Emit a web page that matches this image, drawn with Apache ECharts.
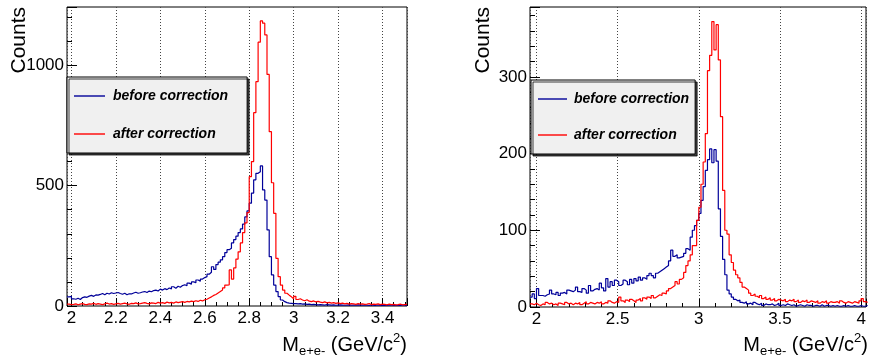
<!DOCTYPE html>
<html><head><meta charset="utf-8">
<script src="https://cdn.jsdelivr.net/npm/echarts@6/dist/echarts.min.js"></script>
<style>html,body{margin:0;padding:0;background:#fff}#c{width:869px;height:356px}</style>
</head><body><div id="c"></div>
<script>
// ---------- data ----------
const seriesNames = ['before correction', 'after correction'];
const seriesColors = ['#000099', '#ff0000'];

// left panel: bins of 0.01 starting at 1.98
const leftBinStart = 1.98;
const leftBinWidth = 0.01;
const leftRange = [1.98, 3.51];
const leftYMax = 1242;
const leftBefore = [38, 40,
 30, 28, 32, 27, 35, 38, 36, 41, 44, 40,
 46, 45, 48, 52, 47, 53, 50, 55, 52, 54,
 56, 52, 49, 53, 47, 51, 50, 54, 57, 53,
 55, 58, 60, 56, 62, 59, 64, 66, 62, 70,
 66, 72, 68, 75, 71, 80, 74, 82, 78, 85,
 88, 84, 95, 90, 100, 97, 108, 103, 112, 118,
 122, 132, 140, 163, 152, 172, 182, 192, 205, 222,
 234, 240, 262, 276, 290, 305, 320, 340, 370, 395,
 427, 469, 524, 551, 558, 582, 482, 440, 316, 205,
 129, 87, 60, 39, 25, 18, 14, 12, 11, 10,
 10, 9, 10, 8, 9, 7, 8, 6, 7, 6,
 5, 6, 5, 4, 6, 5, 4, 5, 3, 4,
 5, 4, 3, 4, 5, 3, 4, 3, 5, 4,
 3, 4, 3, 2, 4, 3, 3, 4, 2, 3,
 3, 2, 4, 3, 2, 3, 3, 2, 4, 3, 2];
const leftAfter = [8, 6,
 7, 9, 5, 8, 10, 7, 6, 9, 8, 11,
 7, 10, 8, 6, 9, 12, 8, 10, 7, 9,
 11, 8, 10, 12, 9, 7, 11, 10, 13, 9,
 10, 12, 14, 11, 9, 13, 12, 10, 15, 12,
 14, 11, 16, 13, 15, 12, 17, 14, 16, 18,
 15, 19, 17, 20, 18, 22, 19, 24, 21, 26,
 28, 33, 38, 44, 48, 54, 60, 66, 75, 87,
 88, 150, 112, 158, 195, 225, 262, 305, 345, 388,
 537, 600, 803, 932, 1096, 1184, 1175, 1126, 962, 724,
 512, 385, 198, 122, 87, 66, 53, 45, 38, 30,
 40, 27, 30, 25, 22, 26, 20, 18, 21, 17,
 19, 16, 14, 17, 13, 15, 12, 14, 11, 13,
 10, 12, 9, 11, 8, 10, 9, 7, 10, 8,
 9, 7, 8, 10, 6, 8, 7, 9, 6, 8,
 7, 5, 8, 6, 7, 5, 6, 8, 5, 6, 7];

// right panel: bins of 1/75 starting at 1.96
const rightBinStart = 1.96;
const rightBinWidth = 1 / 75;
const rightRange = [1.96, 4.03];
const rightYMax = 391;
const rightBefore = [13, 17, 11, 24, 15, 15, 14, 16, 17, 22,
 17, 16, 19, 15, 18, 19, 17, 22, 21, 20,
 22, 26, 20, 19, 24, 22, 18, 28, 21, 23,
 24, 22, 31, 25, 21, 37, 26, 33, 28, 35,
 33, 28, 30, 35, 33, 29, 36, 31, 37, 34,
 39, 35, 38, 36, 41, 44, 41, 38, 44, 46,
 48, 50, 52, 54, 60, 74, 66, 68, 64, 65,
 66, 70, 76, 74, 91, 100, 106, 113, 122, 139,
 157, 178, 192, 206, 188, 205, 190, 128, 92, 62,
 42, 22, 17, 13, 10, 8, 9, 6, 5, 7,
 4, 5, 3, 6, 4, 3, 5, 2, 4, 3,
 3, 4, 2, 3, 5, 2, 3, 2, 4, 3,
 2, 3, 1, 2, 3, 2, 1, 3, 2, 2,
 1, 2, 2, 1, 3, 1, 2, 2, 1, 2,
 1, 2, 1, 1, 2, 1, 2, 1, 1, 2,
 1, 1, 2, 1, 1, 2];
const rightAfter = [4, 3, 5, 3, 2, 4, 3, 6, 4, 5,
 3, 4, 2, 5, 4, 3, 6, 4, 5, 3,
 5, 4, 6, 3, 5, 7, 4, 6, 5, 4,
 6, 5, 7, 4, 6, 5, 8, 6, 5, 7,
 6, 13, 8, 6, 9, 7, 10, 8, 6, 9,
 11, 8, 12, 10, 13, 11, 15, 12, 14, 16,
 15, 18, 17, 21, 24, 26, 28, 33, 30, 36,
 38, 45, 54, 60, 68, 80, 80, 113, 130, 160,
 189, 226, 308, 328, 372, 335, 368, 322, 248, 152,
 100, 95, 68, 58, 48, 42, 38, 32, 26, 24,
 22, 18, 15, 17, 14, 12, 15, 11, 13, 10,
 12, 9, 11, 8, 10, 9, 8, 10, 7, 9,
 8, 10, 7, 9, 6, 8, 7, 9, 6, 8,
 7, 6, 8, 5, 7, 6, 8, 5, 7, 6,
 6, 7, 5, 8, 6, 5, 7, 6, 5, 7,
 6, 5, 8, 11, 7, 6];

// axis tick steps (major / minor)
const leftXStep = [0.2, 0.05];
const leftYStep = [500, 100];
const rightXStep = [0.5, 0.1];
const rightYStep = [100, 20];

const yTitle = 'Counts';
const xTitleRich = '{m|M}{s|e+e-}{m| (GeV/c}{p|2}{m|)}';

// ---------- helpers ----------
const FONT = '"Liberation Sans", Arial, Helvetica, sans-serif';

function hist(start, width, vals) {
  const d = vals.map((v, i) => [start + i * width, v]);
  d.push([start + vals.length * width, vals[vals.length - 1]]);
  return d;
}
function isMult(v, step) {
  const r = v / step;
  return Math.abs(r - Math.round(r)) < 1e-6;
}
function fmt(v) { return String(Number(v.toFixed(3))); }

function xMain(grid, range, step) {
  return {
    type: 'value', gridIndex: grid, position: 'bottom', min: range[0], max: range[1],
    minInterval: step, maxInterval: step,
    axisLine: { show: false, onZero: false },
    axisTick: { show: true, inside: true, length: 8, lineStyle: { color: '#000', width: 1 } },
    axisLabel: { color: '#000', fontSize: 17, fontFamily: FONT, margin: 4,
      formatter: v => isMult(v, step) ? fmt(v) : '' },
    splitLine: { show: true, lineStyle: { color: '#444', type: [1, 2], width: 1 } }
  };
}
function xMinor(grid, range, step) {
  return {
    type: 'value', gridIndex: grid, position: 'bottom', min: range[0], max: range[1],
    minInterval: step, maxInterval: step,
    axisLine: { show: false, onZero: false },
    axisTick: { show: true, inside: true, length: 4, lineStyle: { color: '#000', width: 1 } },
    axisLabel: { show: false }, splitLine: { show: false }
  };
}
function yMain(grid, max, step) {
  return {
    type: 'value', gridIndex: grid, position: 'left', min: 0, max: max,
    minInterval: step, maxInterval: step,
    axisLine: { show: false, onZero: false },
    axisTick: { show: true, inside: true, length: 10, lineStyle: { color: '#000', width: 1 } },
    axisLabel: { color: '#000', fontSize: 17, fontFamily: FONT, margin: 3,
      formatter: v => isMult(v, step) ? fmt(v) : '' },
    splitLine: { show: false }
  };
}
function yMinor(grid, max, step) {
  return {
    type: 'value', gridIndex: grid, position: 'left', min: 0, max: max,
    minInterval: step, maxInterval: step,
    axisLine: { show: false, onZero: false },
    axisTick: { show: true, inside: true, length: 5, lineStyle: { color: '#000', width: 1 } },
    axisLabel: { show: false }, splitLine: { show: false }
  };
}
function histSeries(name, color, data, xi, yi) {
  return {
    type: 'line', name: name, step: 'end', data: data, xAxisIndex: xi, yAxisIndex: yi,
    symbol: 'none', showSymbol: false, clip: true,
    lineStyle: { color: color, width: 1.2 }, itemStyle: { color: color }
  };
}
function legendAt(left, top, itemWidth, itemGap, textPad, padding) {
  return {
    left: left, top: top, orient: 'vertical', data: seriesNames, selectedMode: false,
    icon: 'rect',
    backgroundColor: '#f0f0f0', borderColor: '#000', borderWidth: 1, borderRadius: 0,
    shadowColor: 'rgba(0,0,0,0.75)', shadowOffsetX: 2, shadowOffsetY: 2, shadowBlur: 0,
    padding: padding, itemGap: itemGap, itemWidth: itemWidth, itemHeight: 1.4,
    textStyle: { fontSize: 14, fontStyle: 'italic', fontWeight: 'bold', fontFamily: FONT,
      color: '#000', lineHeight: 14, padding: [0, 0, 0, textPad] }
  };
}
function titleText(x, y) {
  return {
    type: 'text', x: x, y: y, silent: true,
    style: {
      text: xTitleRich, align: 'right', verticalAlign: 'middle',
      rich: {
        m: { fontSize: 20, fontFamily: FONT, fill: '#000', lineHeight: 26 },
        s: { fontSize: 13, fontFamily: FONT, fill: '#000', verticalAlign: 'bottom' },
        p: { fontSize: 13, fontFamily: FONT, fill: '#000', verticalAlign: 'top' }
      }
    }
  };
}
function countsText(x, y) {
  return {
    type: 'text', x: x, y: y, rotation: Math.PI / 2, silent: true,
    style: { text: yTitle, fontSize: 21, fontFamily: FONT, fill: '#000',
      align: 'right', verticalAlign: 'middle' }
  };
}

const chart = echarts.init(document.getElementById('c'), null, { renderer: 'canvas' });
chart.setOption({
  animation: false,
  backgroundColor: '#fff',
  grid: [
    { left: 67, top: 7, width: 340, height: 299, show: true, borderColor: '#000', borderWidth: 1, backgroundColor: '#fff' },
    { left: 530, top: 7, width: 338, height: 300, show: true, borderColor: '#000', borderWidth: 1, backgroundColor: '#fff' }
  ],
  xAxis: [
    xMain(0, leftRange, leftXStep[0]),
    xMinor(0, leftRange, leftXStep[1]),
    xMain(1, rightRange, rightXStep[0]),
    xMinor(1, rightRange, rightXStep[1])
  ],
  yAxis: [
    yMain(0, leftYMax, leftYStep[0]),
    yMinor(0, leftYMax, leftYStep[1]),
    yMain(1, rightYMax, rightYStep[0]),
    yMinor(1, rightYMax, rightYStep[1])
  ],
  legend: [
    legendAt(67, 77, 31, 24, 3, [12, 19, 12, 7]),
    legendAt(531, 80, 29, 22, 2, [12, 6, 12, 7])
  ],
  series: [
    histSeries(seriesNames[0], seriesColors[0], hist(leftBinStart, leftBinWidth, leftBefore), 0, 0),
    histSeries(seriesNames[1], seriesColors[1], hist(leftBinStart, leftBinWidth, leftAfter), 0, 0),
    histSeries(seriesNames[0], seriesColors[0], hist(rightBinStart, rightBinWidth, rightBefore), 2, 2),
    histSeries(seriesNames[1], seriesColors[1], hist(rightBinStart, rightBinWidth, rightAfter), 2, 2)
  ],
  graphic: [
    countsText(19, 7),
    countsText(483, 7),
    titleText(407, 345),
    titleText(868, 345)
  ]
});
</script>
</body></html>
